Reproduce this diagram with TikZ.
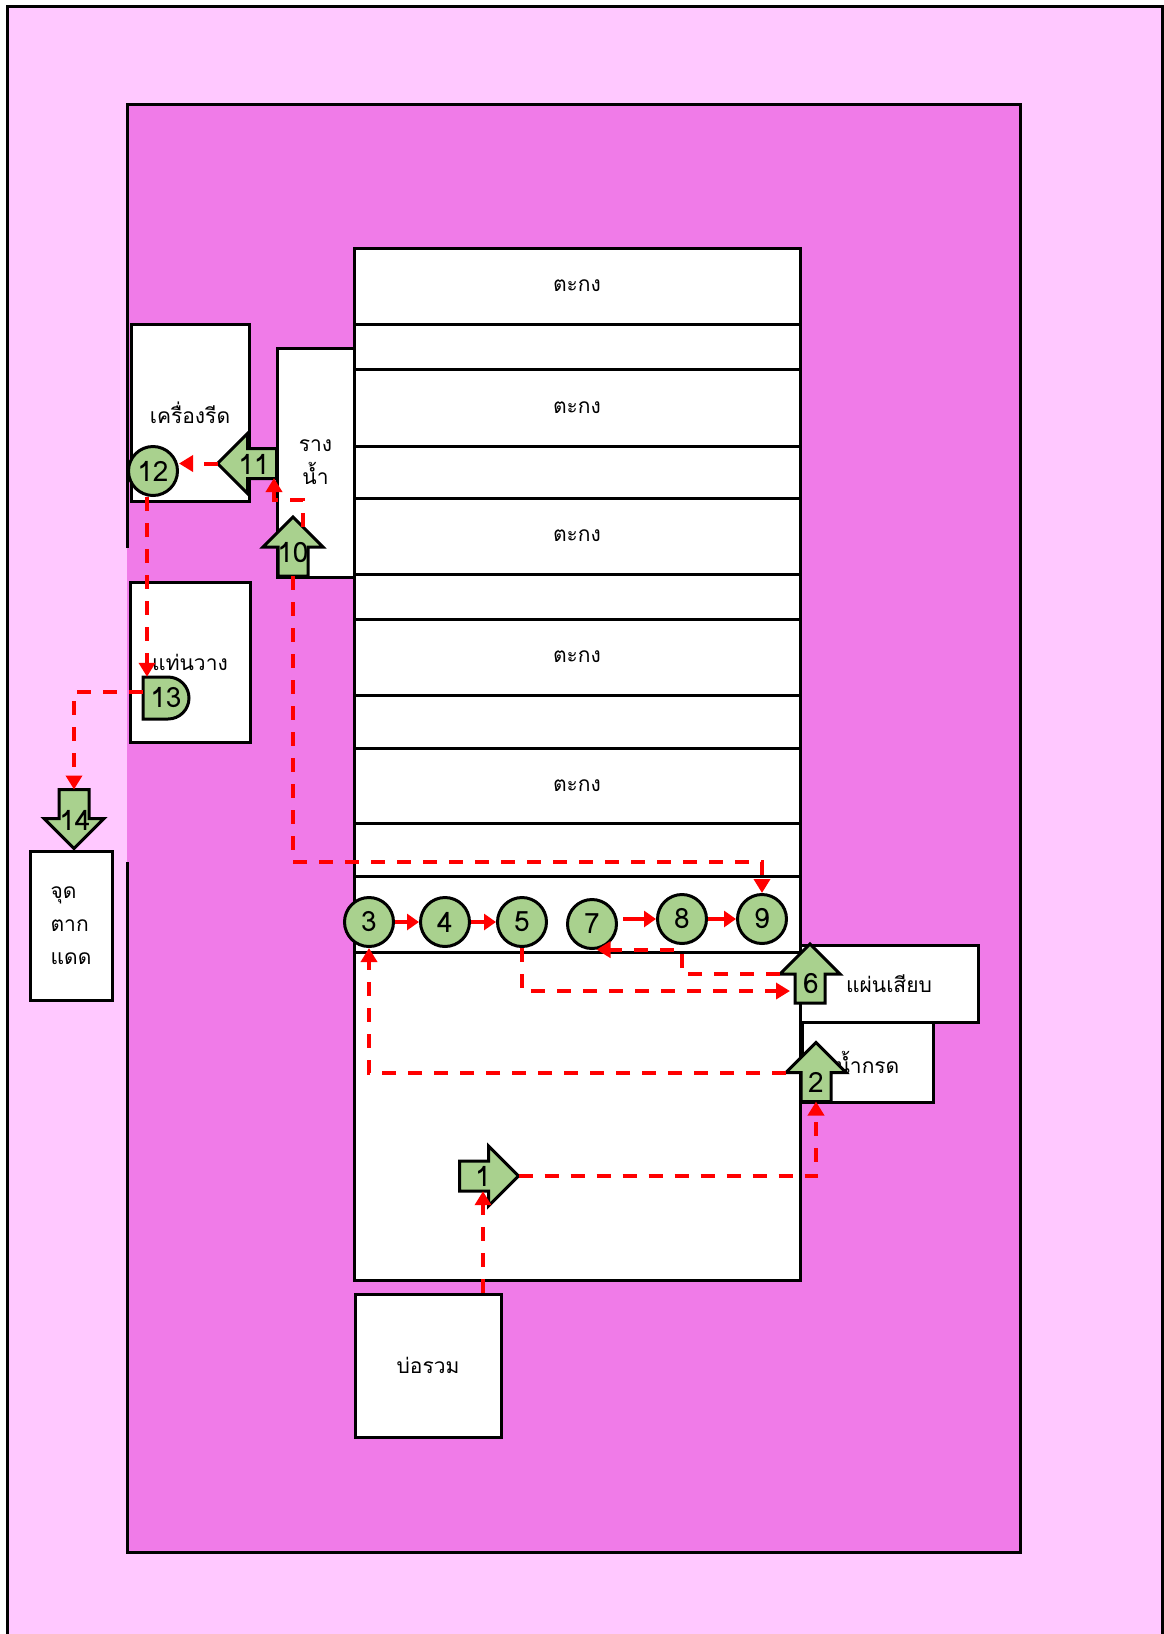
\documentclass[tikz,border=0pt]{standalone}
\usepackage{fontspec}
\setmainfont[Script=Thai]{Loma}
\usetikzlibrary{arrows.meta}
\definecolor{outerpink}{RGB}{255,200,255}
\definecolor{innerpink}{RGB}{240,123,232}
\definecolor{leafgreen}{RGB}{169,209,142}
\tikzset{
  blk/.pic={
    \draw[line width=3pt,fill=leafgreen,line join=miter]
      (-29.5,-15) -- (-0.5,-15) -- (-0.5,-30) -- (29.5,0) -- (-0.5,30) -- (-0.5,15) -- (-29.5,15) -- cycle;
    \coordinate (-tip) at (29.5,0);
    \coordinate (-tail) at (-29.5,0);
    \coordinate (-l) at (-0.5,-30);
  }
}
\begin{document}
\begin{tikzpicture}[x=1pt,y=-1pt,font=\fontsize{21}{33}\selectfont,
	box/.style={draw,line width=3pt,fill=white,inner sep=0pt,align=center},
	num/.style={circle,draw,line width=3pt,fill=leafgreen,minimum size=49pt,inner sep=0pt,font=\fontsize{28}{28}\selectfont},
	lbl/.style={inner sep=0pt,minimum size=30pt,font=\fontsize{28}{28}\selectfont},
	flow/.style={red,line width=4pt,dash pattern=on 14pt off 12pt,-{Triangle[length=14pt,width=16pt]}},
	go/.style={red,line width=4pt,-{Triangle[length=12pt,width=16pt]}}]
	\useasboundingbox (0,0) rectangle (1164,1634);
	% grounds
	\fill[outerpink] (7,6) rectangle (1162,1634);
	\draw[line width=3pt] (7,1634) -- (7,6) -- (1162,6) -- (1162,1634);
	\fill[innerpink] (127,104) rectangle (1020,1552);
	\draw[line width=3pt] (127,548) -- (127,104) -- (1020,104) -- (1020,1552) -- (127,1552) -- (127,862);
	% tank rows
	\foreach \t/\b/\s [count=\i] in {248/324/ตะกง,324/369/,369/446/ตะกง,446/498/,498/574/ตะกง,574/619/,619/695/ตะกง,695/748/,748/823/ตะกง,823/876/,876/952/,952/1280/}
		\node[box,minimum width=446pt,minimum height={(\b-\t)*1pt}] (r\i) at (577,{(\t+\b)/2}) {\s};
	% stations
	\node[box,minimum width=118pt,minimum height=177pt] (kr) at (190,412.5) {เครื่องรีด};
	\node[box,minimum width=77pt,minimum height=229pt] (rn) at (315.5,462.5) {ราง\\น้ำ};
	\node[box,minimum width=120pt,minimum height=160pt] (tw) at (190,662) {แท่นวาง};
	\node[box,minimum width=82pt,minimum height=149pt,align=left] (jd) at (71,925.5) {จุด\\ตาก\\แดด};
	\node[box,minimum width=146pt,minimum height=143pt] (bo) at (428,1365.5) {บ่อรวม};
	\node[box,minimum width=178pt,minimum height=77pt] (ps) at (889,983.5) {แผ่นเสียบ};
	\node[box,minimum width=131pt,minimum height=80pt] (nk) at (867.5,1062) {น้ำกรด};
	% block arrows
	\pic (p1) at (489,1176) {blk};
	\pic[rotate=90] (p2) at (816,1072) {blk};
	\pic[rotate=90] (p6) at (810,973.5) {blk};
	\pic[rotate=90] (p10) at (293,546.5) {blk};
	\pic[rotate=180] (p11) at (247,463.5) {blk};
	\pic[rotate=-90] (p14) at (74,819) {blk};
	\foreach \n/\x/\y in {1/483/1176,2/816/1082,6/811/984,10/293/553,11/254/464,14/75/820}
		\node[lbl] (a\n) at (\x,\y) {\n};
	\draw[line width=3pt,fill=leafgreen] (143,677) -- (168,677) arc(-90:90:21) -- (143,719) -- cycle;
	\node[lbl,minimum width=46pt,minimum height=42pt] (n13) at (166,698) {13};
	% steps
	\foreach \n/\x/\y in {3/369/922,4/445/922,5/522/922,7/592/924,8/682/919,9/762/919,12/153/471}
		\node[num] (c\n) at (\x,\y) {\n};
	% flow
	\draw[flow] (bo.north -| a1.south) -- (a1.south);
	\draw[flow] (p1-tip) -| (p2-tail);
	\draw[flow] (p2-l) -| (c3.south);
	\draw[go] (c3) -- (c4);
	\draw[go] (c4) -- (c5);
	\draw[flow] (c5.south) |- (790,991);
	\draw[flow] (p6-l) -| (c8.south |- c7.-80) -- (c7.-80);
	\draw[go] ([xshift=5pt]c7.east |- c8) -- (c8);
	\draw[go] (c8) -- (c9);
	\draw[flow] (p10-tail) |- (c9.north |- 0,862) -- (c9.north);
	\draw[flow] (303,527) |- (274,500) -- (274,478);
	\draw[flow] (p11-tip) -- (p11-tip -| c12.east);
	\draw[flow] ([xshift=-6pt]c12.south) -- ([xshift=-6pt]c12.south |- n13.north);
	\draw[flow] ([yshift=6pt]n13.west) -| (p14-tail);
\end{tikzpicture}
\end{document}
